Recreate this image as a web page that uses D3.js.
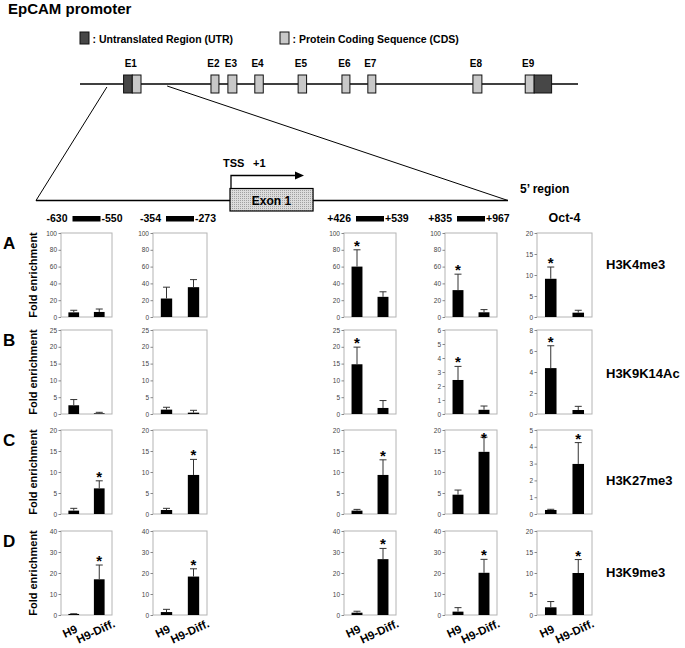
<!DOCTYPE html>
<html>
<head>
<meta charset="utf-8">
<script src="https://cdn.jsdelivr.net/npm/d3@7"></script>
<style>
  body { margin: 0; background: #fff; }
  text { font-family: Arial, "Liberation Sans", sans-serif; }
</style>
</head>
<body>
<svg id="chart" width="685" height="648"></svg>
<script>
// gene structure (positions in % of drawn gene length)
const exonNames = ["E1", "E2", "E3", "E4", "E5", "E6", "E7", "E8", "E9"];
const exonStart = [8.75, 26.3, 29.7, 35.1, 43.8, 52.6, 57.8, 78.9, 89.4];
const utrBefore = [1.75, 0, 0, 0, 0, 0, 0, 0, 0];
const cdsLength = [1.75, 1.6, 1.8, 1.7, 1.7, 1.6, 1.6, 1.8, 1.8];
const utrAfter = [0, 0, 0, 0, 0, 0, 0, 0, 3.5];
const zoomFrom = [5.4, 17.5];
const exon1Span = [41.1, 58.7]; // on the promoter line, %

// ChIP regions
const primerLeft = ["-630", "-354", "+426", "+835"];
const primerRight = ["-550", "-273", "+539", "+967"];
const controlName = "Oct-4";

const marks = ["H3K4me3", "H3K9K14Ac", "H3K27me3", "H3K9me3"];
const rowLetters = ["A", "B", "C", "D"];
const groups = ["H9", "H9-Diff."];

const yMax = [
  [100, 100, 100, 100, 20],
  [25, 25, 25, 6, 8],
  [20, 20, 20, 20, 5],
  [40, 40, 40, 40, 20],
];
const h9Mean = [
  [5.5, 22, 60, 32, 9.1],
  [2.6, 1.3, 14.8, 2.43, 4.37],
  [0.8, 0.95, 0.8, 4.6, 0.24],
  [0.5, 1.4, 1.1, 1.6, 1.83],
];
const h9Sd = [
  [2.5, 13.5, 20, 19, 2.8],
  [1.7, 0.7, 5.1, 0.97, 2.13],
  [0.55, 0.4, 0.3, 1.1, 0.04],
  [0.1, 1.3, 0.7, 1.9, 1.37],
];
const diffMean = [
  [6, 35.5, 24, 5.6, 1.03],
  [0.2, 0.4, 1.8, 0.3, 0.38],
  [6.1, 9.3, 9.3, 14.8, 2.98],
  [17, 18.3, 26.6, 20.1, 10],
];
const diffSd = [
  [3.5, 9, 6, 3.2, 0.57],
  [0.3, 0.7, 2.2, 0.27, 0.35],
  [1.8, 3.7, 3.6, 3.5, 1.27],
  [6.8, 3.7, 5.1, 6.4, 3.2],
];
const starH9 = [
  [0, 0, 1, 1, 1],
  [0, 0, 1, 1, 1],
  [0, 0, 0, 0, 0],
  [0, 0, 0, 0, 0],
];
const starDiff = [
  [0, 0, 0, 0, 0],
  [0, 0, 0, 0, 0],
  [1, 1, 1, 1, 1],
  [1, 1, 1, 1, 1],
];

// layout
const colLeft = [61, 153, 344, 445, 537];
const colWidth = [51, 54, 52, 52, 55];
const rowTop = [233, 330, 430, 531];
const plotH = 84;
const markLabelDy = [36, 48, 55, 46];

const svg = d3.select("#chart");

const defs = svg.append("defs");
const pat = defs.append("pattern")
  .attr("id", "stipple")
  .attr("width", 2)
  .attr("height", 2)
  .attr("patternUnits", "userSpaceOnUse");
pat.append("rect").attr("width", 2).attr("height", 2).attr("fill", "#dcdcdc");
pat.append("rect").attr("width", 1).attr("height", 1).attr("fill", "#a0a0a0");

svg.append("text")
  .attr("x", 8)
  .attr("y", 14)
  .style("font-size", "15px")
  .style("font-weight", "bold")
  .text("EpCAM promoter");

// legend
const legend = [
  { x: 80, fill: "#474747", label: ": Untranslated Region (UTR)" },
  { x: 280, fill: "#c8c8c8", label: ": Protein Coding Sequence (CDS)" },
];
const legendG = svg.selectAll("g.legend")
  .data(legend)
  .enter()
  .append("g")
  .attr("class", "legend");
legendG.append("rect")
  .attr("x", (d) => d.x)
  .attr("y", 32)
  .attr("width", 9)
  .attr("height", 12)
  .attr("fill", (d) => d.fill)
  .attr("stroke", "#111");
legendG.append("text")
  .attr("x", (d) => d.x + 12.5)
  .attr("y", 42.5)
  .style("font-size", "10.5px")
  .style("font-weight", "bold")
  .text((d) => d.label);

// gene line
const gx = d3.scaleLinear().domain([0, 100]).range([80, 578]);
const geneY = 84;
svg.append("line")
  .attr("x1", gx(0)).attr("x2", gx(100))
  .attr("y1", geneY).attr("y2", geneY)
  .attr("stroke", "#000")
  .attr("stroke-width", 1.5);

const exons = exonNames.map((name, i) => ({
  name,
  start: exonStart[i],
  utrA: utrBefore[i],
  cds: cdsLength[i],
  utrB: utrAfter[i],
}));

const exonG = svg.selectAll("g.exon")
  .data(exons)
  .enter()
  .append("g")
  .attr("class", "exon");

exonG.filter((d) => d.utrA > 0)
  .append("rect")
  .attr("x", (d) => gx(d.start))
  .attr("width", (d) => gx(d.start + d.utrA) - gx(d.start))
  .attr("y", geneY - 9).attr("height", 18)
  .attr("fill", "#474747").attr("stroke", "#111");
exonG.append("rect")
  .attr("x", (d) => gx(d.start + d.utrA))
  .attr("width", (d) => gx(d.start + d.utrA + d.cds) - gx(d.start + d.utrA))
  .attr("y", geneY - 9).attr("height", 18)
  .attr("fill", "#c8c8c8").attr("stroke", "#111");
exonG.filter((d) => d.utrB > 0)
  .append("rect")
  .attr("x", (d) => gx(d.start + d.utrA + d.cds))
  .attr("width", (d) => gx(d.start + d.utrA + d.cds + d.utrB) - gx(d.start + d.utrA + d.cds))
  .attr("y", geneY - 9).attr("height", 18)
  .attr("fill", "#474747").attr("stroke", "#111");
exonG.append("text")
  .attr("x", (d) => gx(d.start + (d.utrA + d.cds) / 2) - 1.5)
  .attr("y", 67)
  .attr("text-anchor", "middle")
  .style("font-size", "10px")
  .style("font-weight", "bold")
  .text((d) => d.name);

// promoter blow-up
const px = d3.scaleLinear().domain([0, 100]).range([36, 508]);
const promY = 200.5;
svg.append("line")
  .attr("x1", gx(zoomFrom[0])).attr("y1", geneY + 3)
  .attr("x2", px(0)).attr("y2", promY)
  .attr("stroke", "#000");
svg.append("line")
  .attr("x1", gx(zoomFrom[1])).attr("y1", geneY + 2)
  .attr("x2", px(100)).attr("y2", promY)
  .attr("stroke", "#000");
svg.append("line")
  .attr("x1", px(0)).attr("x2", px(100))
  .attr("y1", promY).attr("y2", promY)
  .attr("stroke", "#000")
  .attr("stroke-width", 1.5);

svg.append("rect")
  .attr("x", px(exon1Span[0]))
  .attr("y", 188.5)
  .attr("width", px(exon1Span[1]) - px(exon1Span[0]))
  .attr("height", 22.5)
  .attr("fill", "url(#stipple)")
  .attr("stroke", "#000")
  .attr("stroke-width", 1.2);
svg.append("text")
  .attr("x", (px(exon1Span[0]) + px(exon1Span[1])) / 2)
  .attr("y", 204.5)
  .attr("text-anchor", "middle")
  .style("font-size", "12px")
  .style("font-weight", "bold")
  .text("Exon 1");

const tssX = px(exon1Span[0]) + 1;
svg.append("path")
  .attr("d", `M${tssX},188.5V175.5H${tssX + 64}`)
  .attr("fill", "none")
  .attr("stroke", "#000")
  .attr("stroke-width", 1.3);
svg.append("path")
  .attr("d", `M${tssX + 64},171.5L${tssX + 73},175.5L${tssX + 64},179.5Z`)
  .attr("fill", "#000");
svg.append("text")
  .attr("x", tssX - 8).attr("y", 167)
  .style("font-size", "11px").style("font-weight", "bold")
  .text("TSS");
svg.append("text")
  .attr("x", tssX + 22).attr("y", 167)
  .style("font-size", "11px").style("font-weight", "bold")
  .text("+1");
svg.append("text")
  .attr("x", 520).attr("y", 193)
  .style("font-size", "12px").style("font-weight", "bold")
  .text("5\u2019 region");

// primer positions above each column
primerLeft.forEach((lab, c) => {
  const cx = colLeft[c] + colWidth[c] / 2;
  svg.append("rect")
    .attr("x", cx - 14).attr("y", 216)
    .attr("width", 28).attr("height", 5.5)
    .attr("fill", "#000");
  svg.append("text")
    .attr("x", cx - 19).attr("y", 221.5)
    .attr("text-anchor", "end")
    .style("font-size", "10.5px").style("font-weight", "bold")
    .text(lab);
  svg.append("text")
    .attr("x", cx + 15).attr("y", 221.5)
    .style("font-size", "10.5px").style("font-weight", "bold")
    .text(primerRight[c]);
});
svg.append("text")
  .attr("x", colLeft[4] + colWidth[4] / 2).attr("y", 222)
  .attr("text-anchor", "middle")
  .style("font-size", "12.5px").style("font-weight", "bold")
  .text(controlName);

// bar panels
marks.forEach((mark, r) => {
  const y0 = rowTop[r];

  svg.append("text")
    .attr("x", 3).attr("y", y0 + 16)
    .style("font-size", "17px").style("font-weight", "bold")
    .text(rowLetters[r]);

  svg.append("text")
    .attr("transform", `translate(37,${y0 + 42}) rotate(-90)`)
    .attr("text-anchor", "middle")
    .style("font-size", "11px").style("font-weight", "bold")
    .text("Fold enrichment");

  svg.append("text")
    .attr("x", 606).attr("y", y0 + markLabelDy[r])
    .style("font-size", "13px").style("font-weight", "bold")
    .text(mark);

  colLeft.forEach((x0, c) => {
    const w = colWidth[c];
    const x = d3.scaleBand()
      .domain(groups)
      .range([x0, x0 + w])
      .paddingInner(0.58)
      .paddingOuter(0.29);
    const y = d3.scaleLinear()
      .domain([0, yMax[r][c]])
      .range([y0 + plotH, y0]);

    const g = svg.append("g").attr("class", "panel");

    g.append("rect")
      .attr("x", x0).attr("y", y0)
      .attr("width", w).attr("height", plotH)
      .attr("fill", "none")
      .attr("stroke", "#b4b4b4");

    const axisG = g.append("g")
      .attr("transform", `translate(${x0},0)`)
      .call(d3.axisLeft(y).ticks(5).tickSize(2.5).tickPadding(1.5));
    axisG.select(".domain").remove();
    axisG.selectAll(".tick line").attr("stroke", "#888");
    axisG.selectAll(".tick text")
      .attr("fill", "#444")
      .style("font-size", "6.5px")
      .style("font-family", "Arial, 'Liberation Sans', sans-serif");

    const bars = [
      { group: groups[0], v: h9Mean[r][c], e: h9Sd[r][c], star: starH9[r][c] },
      { group: groups[1], v: diffMean[r][c], e: diffSd[r][c], star: starDiff[r][c] },
    ];

    g.selectAll("rect.bar")
      .data(bars)
      .enter()
      .append("rect")
      .attr("class", "bar")
      .attr("x", (d) => x(d.group))
      .attr("width", x.bandwidth())
      .attr("y", (d) => y(d.v))
      .attr("height", (d) => y(0) - y(d.v))
      .attr("fill", "#000");

    const cx = (d) => x(d.group) + x.bandwidth() / 2;

    g.selectAll("line.err")
      .data(bars)
      .enter()
      .append("line")
      .attr("class", "err")
      .attr("x1", cx).attr("x2", cx)
      .attr("y1", (d) => y(d.v))
      .attr("y2", (d) => y(d.v + d.e))
      .attr("stroke", "#333");
    g.selectAll("line.cap")
      .data(bars)
      .enter()
      .append("line")
      .attr("class", "cap")
      .attr("x1", (d) => cx(d) - 3.5).attr("x2", (d) => cx(d) + 3.5)
      .attr("y1", (d) => y(d.v + d.e))
      .attr("y2", (d) => y(d.v + d.e))
      .attr("stroke", "#333");

    g.selectAll("text.star")
      .data(bars.filter((d) => d.star))
      .enter()
      .append("text")
      .attr("class", "star")
      .attr("x", cx)
      .attr("y", (d) => Math.max(y(d.v + d.e) + 1, y0 + 13))
      .attr("text-anchor", "middle")
      .style("font-size", "15px")
      .style("font-weight", "bold")
      .text("*");

    if (r === marks.length - 1) {
      g.selectAll("text.xlab")
        .data(groups)
        .enter()
        .append("text")
        .attr("class", "xlab")
        .attr("transform", (d) => `translate(${x(d) + x.bandwidth() / 2 - 2},${y0 + plotH + 20}) rotate(-25)`)
        .attr("text-anchor", "middle")
        .style("font-size", "11.5px")
        .style("font-weight", "bold")
        .text((d) => d);
    }
  });
});
</script>
</body>
</html>
